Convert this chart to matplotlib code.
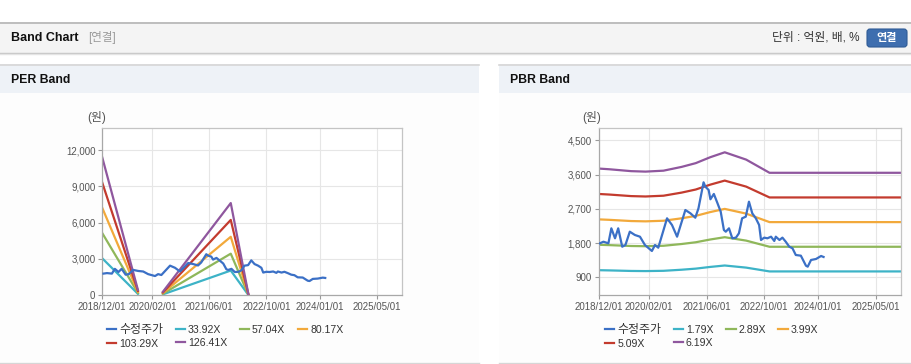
import matplotlib.pyplot as plt
import matplotlib.dates as mdates
import numpy as np
import pandas as pd
from matplotlib.patches import Rectangle, FancyBboxPatch

LATIN_KR = ['Liberation Sans', 'Noto Sans CJK KR', 'DejaVu Sans']
plt.rcParams['font.family'] = LATIN_KR

# adjusted close price (shared by both charts)
price_dates = [
    '2018-12-11', '2019-01-10', '2019-02-21', '2019-03-18', '2019-04-18', '2019-05-15',
    '2019-06-18', '2019-07-15', '2019-08-21', '2019-10-03', '2019-11-15', '2019-12-27',
    '2020-02-24', '2020-03-21', '2020-04-18', '2020-05-03', '2020-07-01', '2020-08-12',
    '2020-09-24', '2020-12-03', '2021-01-15', '2021-02-25', '2021-03-24', '2021-05-06',
    '2021-05-21', '2021-06-18', '2021-07-03', '2021-08-01', '2021-09-01', '2021-09-28',
    '2021-10-25', '2021-11-10', '2021-12-07', '2022-01-04', '2022-02-04', '2022-03-01',
    '2022-03-28', '2022-04-28', '2022-05-25', '2022-06-22', '2022-07-22', '2022-08-19',
    '2022-09-04', '2022-10-01', '2022-10-28', '2022-11-28', '2022-12-25', '2023-01-07',
    '2023-02-07', '2023-03-04', '2023-04-01', '2023-05-01', '2023-05-28', '2023-06-25',
    '2023-08-07', '2023-09-19', '2023-10-04', '2023-11-01', '2023-12-13', '2024-01-25',
    '2024-02-15',
]
price_values = [
    1793, 1835, 1793, 2187, 1925, 2187,
    1704, 1749, 2098, 2012, 1967, 1749,
    1591, 1749, 1678, 1835, 2450, 2274,
    1967, 2668, 2581, 2466, 2713, 3396,
    3281, 3194, 2950, 3090, 2844, 2624,
    2143, 2098, 2187, 1925, 1942, 2056,
    2450, 2493, 2887, 2581, 2450, 2274,
    1880, 1942, 1925, 1967, 1854, 1967,
    1880, 1942, 1835, 1704, 1662, 1486,
    1468, 1205, 1179, 1355, 1381, 1460,
    1434,
]

# PER band: EPS base and multiples
eps_dates = ['2018-12-01', '2019-10-01', '2020-01-01', '2020-05-01', '2021-12-01', '2022-05-01']
eps_values = [90.0, 3.5, np.nan, 2.3, 60.3, 0.5]
per_multiples = [33.92, 57.04, 80.17, 103.29, 126.41]

# PBR band: BPS base and multiples
bps_dates = ['2018-12-01', '2019-03-01', '2019-09-01', '2020-01-01', '2020-06-01', '2020-11-01',
             '2021-03-01', '2021-07-01', '2021-11-01', '2022-05-01', '2022-11-15', '2025-12-01']
bps_values = [607, 604, 596, 594, 598, 614, 630, 655, 676, 645, 589, 589]
pbr_multiples = [1.79, 2.89, 3.99, 5.09, 6.19]

x_ticks = ['2018-12-01', '2020-02-01', '2021-06-01', '2022-10-01', '2024-01-01', '2025-05-01']
per_yticks = [0, 3000, 6000, 9000, 12000]
pbr_yticks = [900, 1800, 2700, 3600, 4500]

PRICE_COLOR = '#3b70c6'
BAND_COLORS = ['#3db3c7', '#8fb75a', '#f2a93b', '#c33b2e', '#8f579e']

W, H = 912, 364
fig = plt.figure(figsize=(W / 100, H / 100), dpi=100)
fig.patch.set_facecolor('white')

# page decoration drawn in pixel space
bg = fig.add_axes([0, 0, 1, 1])
bg.set_xlim(0, W)
bg.set_ylim(H, 0)
bg.axis('off')
bg.add_patch(Rectangle((0, 22), W, 31, facecolor='#f4f4f4', edgecolor='none'))
bg.plot([0, W], [22.5, 22.5], color='#b4b4b4', lw=1.2)
bg.plot([0, W], [53, 53], color='#c4c4c4', lw=1.0)
bg.plot([0, W], [54.2, 54.2], color='#e4e4e4', lw=1.0)
bg.text(11, 38, 'Band Chart', fontsize=9, fontweight='bold', color='#111', va='center')
bg.text(88, 38, '[연결]', fontsize=8.3, color='#9a9a9a', va='center')
bg.text(860, 38, '단위 : 억원, 배, %', fontsize=8.5, color='#333', va='center', ha='right')
bg.add_patch(FancyBboxPatch((867, 29), 40, 18, boxstyle='round,pad=0,rounding_size=3',
                            facecolor='#3e6eaf', edgecolor='#2f5b95', lw=0.8))
bg.text(887, 38.5, '연결', fontsize=8, fontweight='bold', color='white', va='center', ha='center')

for x0, x1, title in [(0, 479, 'PER Band'), (499, W, 'PBR Band')]:
    bg.add_patch(Rectangle((x0, 64), x1 - x0, 29, facecolor='#eef2f7', edgecolor='none'))
    bg.add_patch(Rectangle((x0, 93), x1 - x0, 269, facecolor='#fdfdfd', edgecolor='none'))
    bg.plot([x0, x1], [64.5, 64.5], color='#d6d6d6', lw=1.2)
    bg.plot([x0, x1], [362.5, 362.5], color='#d6d6d6', lw=1.0)
    bg.text(x0 + 11, 80, title, fontsize=8.8, fontweight='bold', color='#111', va='center')

price_x = pd.to_datetime(price_dates)


def style_axis(ax, yticks, ylim):
    ax.set_facecolor('white')
    ax.set_xlim(pd.Timestamp('2018-12-01'), pd.Timestamp('2025-12-01'))
    ax.set_ylim(*ylim)
    ax.set_xticks(pd.to_datetime(x_ticks))
    ax.xaxis.set_major_formatter(mdates.DateFormatter('%Y/%m/%d'))
    ax.set_yticks(yticks)
    ax.set_yticklabels([f'{v:,}' for v in yticks])
    ax.tick_params(axis='both', labelsize=7, colors='#999', labelcolor='#555',
                   length=3, width=0.8, pad=2)
    ax.grid(True, color='#e6e6e6', lw=0.8)
    ax.set_axisbelow(True)
    for side in ax.spines.values():
        side.set_color('#c4c4c4')
        side.set_linewidth(0.9)
    ax.spines['left'].set_color('#a8a8a8')
    ax.spines['bottom'].set_color('#a8a8a8')


def draw_band(ax, base_dates, base_values, multiples, ylim, yticks, legend_x):
    style_axis(ax, yticks, ylim)
    handles = []
    h, = ax.plot(price_x, price_values, color=PRICE_COLOR, lw=1.6, label='수정주가', zorder=3)
    handles.append(h)
    bx = pd.to_datetime(base_dates)
    for mult, color in zip(multiples, BAND_COLORS):
        h, = ax.plot(bx, np.array(base_values) * mult, color=color, lw=1.6,
                     label=f'{mult:.2f}X', zorder=2)
        handles.append(h)
    # legend reads row by row: matplotlib fills columns, so reorder
    order = [0, 4, 1, 5, 2, 3]
    leg = ax.legend([handles[i] for i in order], [handles[i].get_label() for i in order],
                    ncol=4, loc='upper left', bbox_to_anchor=(legend_x / W, 1 - 324 / H),
                    bbox_transform=fig.transFigure, frameon=False, fontsize=7.6,
                    handlelength=0.9, handletextpad=0.25, columnspacing=1.2,
                    labelspacing=0.25, borderpad=0, borderaxespad=0)
    for t in leg.get_texts():
        t.set_color('#333')
    leg.get_texts()[0].set_fontsize(8.6)


ax1 = fig.add_axes([102.3 / W, 1 - 295.3 / H, 299.7 / W, 167 / H])
draw_band(ax1, eps_dates, eps_values, per_multiples, (0, 13800), per_yticks, 107)
bg.text(87, 117, '(원)', fontsize=8.5, color='#555', va='center')

ax2 = fig.add_axes([598.7 / W, 1 - 295.3 / H, 302.3 / W, 167 / H])
draw_band(ax2, bps_dates, bps_values, pbr_multiples, (427, 4815), pbr_yticks, 605)
bg.text(582, 117, '(원)', fontsize=8.5, color='#555', va='center')

fig.savefig('out.png', dpi=100, facecolor='white')
plt.close(fig)
